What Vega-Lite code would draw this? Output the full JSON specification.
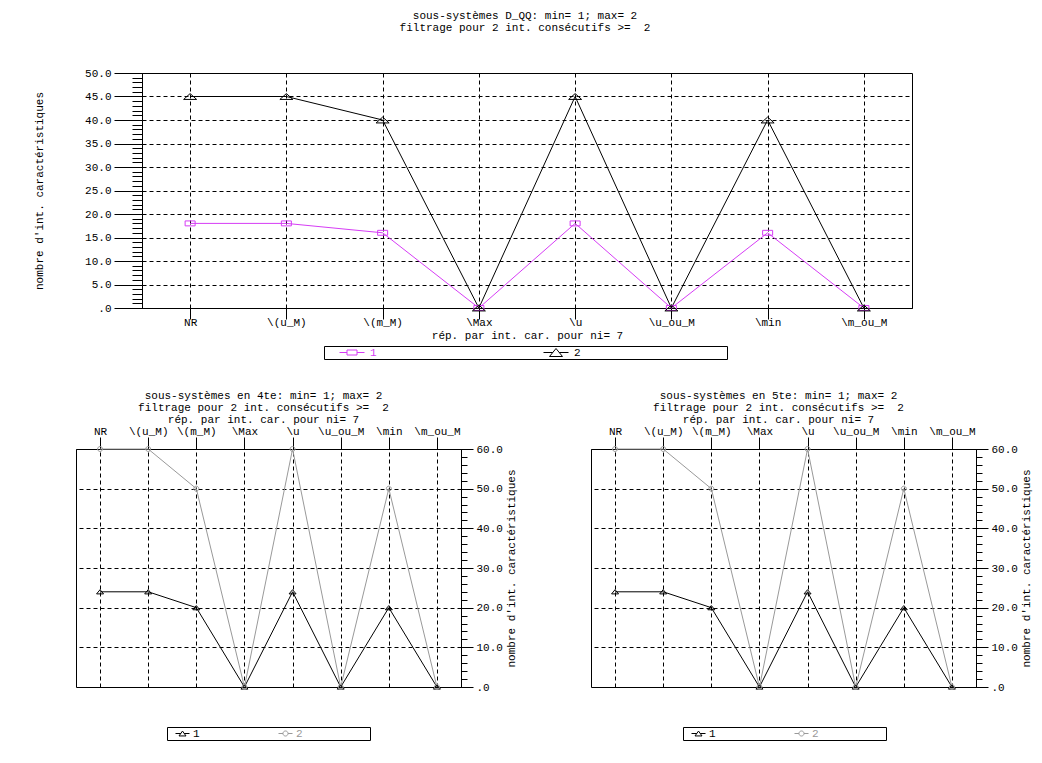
{
  "$schema": "https://vega.github.io/schema/vega-lite/v6.json",
  "background": "white",
  "padding": {"left": 33, "top": 9, "right": 2, "bottom": 2},
  "config": {
    "font": "Liberation Mono",
    "view": {"stroke": "black", "strokeWidth": 1},
    "axis": {
      "labelFont": "Liberation Mono", "labelFontSize": 11, "labelColor": "black",
      "titleFont": "Liberation Mono", "titleFontSize": 11, "titleFontWeight": "normal", "titleColor": "black",
      "domainColor": "black", "tickColor": "black", "gridColor": "black", "gridDash": [4, 3], "gridOpacity": 1, "gridWidth": 1,
      "labelOverlap": false, "labelFlush": false
    },
    "title": {"font": "Liberation Mono", "fontSize": 11, "fontWeight": "normal", "color": "black", "lineHeight": 12, "anchor": "middle", "frame": "group"},
    "legend": {"labelFont": "Liberation Mono", "labelFontSize": 11, "titleFont": "Liberation Mono", "titleFontSize": 11, "titleFontWeight": "normal",
      "strokeColor": "black", "strokeWidth": 1, "fillColor": "white", "cornerRadius": 0, "padding": 1, "direction": "horizontal", "orient": "none"}
  },
  "datasets": {
    "top": [
      {"cat": "NR", "s": "1", "v": 18}, {"cat": "\\(u_M)", "s": "1", "v": 18}, {"cat": "\\(m_M)", "s": "1", "v": 16}, {"cat": "\\Max", "s": "1", "v": 0},
      {"cat": "\\u", "s": "1", "v": 18}, {"cat": "\\u_ou_M", "s": "1", "v": 0}, {"cat": "\\min", "s": "1", "v": 16}, {"cat": "\\m_ou_M", "s": "1", "v": 0},
      {"cat": "NR", "s": "2", "v": 45}, {"cat": "\\(u_M)", "s": "2", "v": 45}, {"cat": "\\(m_M)", "s": "2", "v": 40}, {"cat": "\\Max", "s": "2", "v": 0},
      {"cat": "\\u", "s": "2", "v": 45}, {"cat": "\\u_ou_M", "s": "2", "v": 0}, {"cat": "\\min", "s": "2", "v": 40}, {"cat": "\\m_ou_M", "s": "2", "v": 0}
    ],
    "b4": [
      {"cat": "NR", "s": "1", "v": 24}, {"cat": "\\(u_M)", "s": "1", "v": 24}, {"cat": "\\(m_M)", "s": "1", "v": 20}, {"cat": "\\Max", "s": "1", "v": 0},
      {"cat": "\\u", "s": "1", "v": 24}, {"cat": "\\u_ou_M", "s": "1", "v": 0}, {"cat": "\\min", "s": "1", "v": 20}, {"cat": "\\m_ou_M", "s": "1", "v": 0},
      {"cat": "NR", "s": "2", "v": 60}, {"cat": "\\(u_M)", "s": "2", "v": 60}, {"cat": "\\(m_M)", "s": "2", "v": 50}, {"cat": "\\Max", "s": "2", "v": 0},
      {"cat": "\\u", "s": "2", "v": 60}, {"cat": "\\u_ou_M", "s": "2", "v": 0}, {"cat": "\\min", "s": "2", "v": 50}, {"cat": "\\m_ou_M", "s": "2", "v": 0}
    ],
    "b5": [
      {"cat": "NR", "s": "1", "v": 24}, {"cat": "\\(u_M)", "s": "1", "v": 24}, {"cat": "\\(m_M)", "s": "1", "v": 20}, {"cat": "\\Max", "s": "1", "v": 0},
      {"cat": "\\u", "s": "1", "v": 24}, {"cat": "\\u_ou_M", "s": "1", "v": 0}, {"cat": "\\min", "s": "1", "v": 20}, {"cat": "\\m_ou_M", "s": "1", "v": 0},
      {"cat": "NR", "s": "2", "v": 60}, {"cat": "\\(u_M)", "s": "2", "v": 60}, {"cat": "\\(m_M)", "s": "2", "v": 50}, {"cat": "\\Max", "s": "2", "v": 0},
      {"cat": "\\u", "s": "2", "v": 60}, {"cat": "\\u_ou_M", "s": "2", "v": 0}, {"cat": "\\min", "s": "2", "v": 50}, {"cat": "\\m_ou_M", "s": "2", "v": 0}
    ]
  },
  "spacing": 29,
  "resolve": {"scale": {"color": "independent", "shape": "independent", "stroke": "independent"}},
  "vconcat": [
    {
      "spacing": 7,
      "resolve": {"scale": {"color": "independent", "shape": "independent", "stroke": "independent"}},
      "hconcat": [
        {
          "width": 1, "height": 235,
          "data": {"name": "top"},
          "view": {"stroke": null},
          "mark": {"type": "point", "opacity": 0, "size": 0},
          "encoding": {
            "y": {"field": "v", "type": "quantitative", "scale": {"domain": [0, 50], "nice": false},
              "axis": {"title": "nombre d'int. caractéristiques", "labels": false, "ticks": false, "domain": false, "grid": false, "titlePadding": 32}}
          }
        },
        {
          "width": 770, "height": 235,
          "data": {"name": "top"},
          "title": {"text": ["sous-systèmes D_QQ: min= 1; max= 2", "filtrage pour 2 int. consécutifs >=\u00a0\u00a02"], "offset": 34, "dx": -2},
          "layer": [
            {
              "mark": {"type": "line", "strokeWidth": 1},
              "encoding": {
                "x": {"field": "cat", "type": "ordinal", "sort": ["NR", "\\(u_M)", "\\(m_M)", "\\Max", "\\u", "\\u_ou_M", "\\min", "\\m_ou_M"],
                  "scale": {"type": "point", "padding": 0.5},
                  "axis": {"title": "rép. par int. car. pour ni= 7", "labelAngle": 0, "tickSize": 11, "labelPadding": -3, "titlePadding": 2, "grid": true}},
                "y": {"field": "v", "type": "quantitative", "scale": {"domain": [0, 50], "nice": false},
                  "axis": {"title": null, "values": [0, 5, 10, 15, 20, 25, 30, 35, 40, 45, 50], "tickSize": 28, "labelPadding": 3,
                    "labelExpr": "datum.value == 0 ? '.0' : format(datum.value, '.1f')", "grid": true}},
                "stroke": {"field": "s", "type": "nominal", "scale": {"domain": ["1", "2"], "range": ["#d63cf5", "black"]}, "legend": null}
              }
            },
            {
              "mark": {"type": "point", "filled": false, "size": 169, "strokeWidth": 1, "opacity": 1},
              "encoding": {
                "x": {"field": "cat", "type": "ordinal", "sort": ["NR", "\\(u_M)", "\\(m_M)", "\\Max", "\\u", "\\u_ou_M", "\\min", "\\m_ou_M"]},
                "y": {"field": "v", "type": "quantitative",
                  "axis": {"orient": "left", "values": [0,1,2,3,4,5,6,7,8,9,10,11,12,13,14,15,16,17,18,19,20,21,22,23,24,25,26,27,28,29,30,31,32,33,34,35,36,37,38,39,40,41,42,43,44,45,46,47,48,49,50],
                    "tickSize": 10, "labels": false, "domain": false, "grid": false, "title": null}},
                "shape": {"field": "s", "type": "nominal", "scale": {"domain": ["1", "2"], "range": ["M-0.77,-0.38H0.77V0.38H-0.77Z", "M-1,0.45L0,-0.45L1,0.45Z"]}, "legend": null},
                "color": {"field": "s", "type": "nominal", "scale": {"range": ["#d63cf5", "black"]},
                  "legend": {
                    "title": "\u00a0", "titleOrient": "left", "titlePadding": 14,
                    "legendX": 182, "legendY": 273, "columns": 2, "columnPadding": 166,
                    "symbolSize": 625, "symbolStrokeWidth": 1, "symbolFillColor": "transparent", "labelOffset": 5, "clipHeight": 11,
                    "symbolType": {"expr": "datum.value == '1' ? 'M-1,0H-0.4M0.4,0H1M-0.4,-0.2H0.4V0.2H-0.4Z' : 'M-1,0H-0.26M0.26,0H1M-0.52,0.32L0,-0.32L0.52,0.32Z'"},
                    "labelColor": {"expr": "datum.value == '1' ? '#d63cf5' : 'black'"},
                    "labelExpr": "datum.label == '2' ? '2\u00a0\u00a0\u00a0\u00a0\u00a0\u00a0\u00a0\u00a0\u00a0\u00a0\u00a0\u00a0\u00a0\u00a0\u00a0\u00a0\u00a0\u00a0\u00a0\u00a0\u00a0\u00a0\u200b' : datum.label"
                  }}
              }
            }
          ],
          "resolve": {"axis": {"y": "independent"}}
        }
      ]
    },
    {
      "spacing": 73,
      "resolve": {"scale": {"color": "independent", "shape": "independent", "stroke": "independent"}},
      "hconcat": [
        {
          "width": 385, "height": 238,
          "data": {"name": "b4"},
          "title": {"text": ["sous-systèmes en 4te: min= 1; max= 2", "filtrage pour 2 int. consécutifs >=\u00a0\u00a02", "rép. par int. car. pour ni= 7"], "offset": 0, "dx": -5},
          "layer": [
            {
              "mark": {"type": "line", "strokeWidth": 1},
              "encoding": {
                "x": {"field": "cat", "type": "ordinal", "sort": ["NR", "\\(u_M)", "\\(m_M)", "\\Max", "\\u", "\\u_ou_M", "\\min", "\\m_ou_M"],
                  "scale": {"type": "point", "padding": 0.5},
                  "axis": {"orient": "top", "title": null, "labelAngle": 0, "tickSize": 12, "labelPadding": 1, "grid": true}},
                "y": {"field": "v", "type": "quantitative", "scale": {"domain": [0, 60], "nice": false},
                  "axis": {"orient": "right", "values": [0, 10, 20, 30, 40, 50, 60], "tickSize": 12, "labelPadding": 3,
                    "labelExpr": "datum.value == 0 ? '.0' : format(datum.value, '.1f')",
                    "title": "nombre d'int. caractéristiques", "titleAngle": 270, "titleBaseline": "top", "titlePadding": 3, "grid": true}},
                "stroke": {"field": "s", "type": "nominal", "scale": {"domain": ["1", "2"], "range": ["black", "#999999"]}, "legend": null}
              }
            },
            {
              "mark": {"type": "point", "filled": false, "size": 49, "strokeWidth": 1, "opacity": 1},
              "encoding": {
                "x": {"field": "cat", "type": "ordinal", "sort": ["NR", "\\(u_M)", "\\(m_M)", "\\Max", "\\u", "\\u_ou_M", "\\min", "\\m_ou_M"]},
                "y": {"field": "v", "type": "quantitative",
                  "axis": {"orient": "right", "values": [0,2,4,6,8,10,12,14,16,18,20,22,24,26,28,30,32,34,36,38,40,42,44,46,48,50,52,54,56,58,60],
                    "tickSize": 6, "labels": false, "domain": false, "grid": false, "title": null}},
                "shape": {"field": "s", "type": "nominal", "scale": {"domain": ["1", "2"], "range": ["M-1,0.6L0,-0.6L1,0.6Z", "M0.71,0A0.71,0.71 0 1,1 -0.71,0A0.71,0.71 0 1,1 0.71,0Z"]}, "legend": null},
                "color": {"field": "s", "type": "nominal", "scale": {"range": ["black", "#999999"]},
                  "legend": {
                    "title": "\u00a0", "titleOrient": "left", "titlePadding": 7,
                    "legendX": 91, "legendY": 278, "columns": 2, "columnPadding": 78,
                    "symbolSize": 196, "symbolStrokeWidth": 1, "symbolFillColor": "transparent", "labelOffset": 3, "clipHeight": 11,
                    "symbolType": {"expr": "datum.value == '1' ? 'M-1,0H-0.25M0.25,0H1M-0.5,0.35L0,-0.35L0.5,0.35Z' : 'M-1,0H-0.36M0.36,0H1M0.36,0A0.36,0.36 0 1,1 -0.36,0A0.36,0.36 0 1,1 0.36,0Z'"},
                    "labelColor": {"expr": "datum.value == '1' ? 'black' : '#999999'"},
                    "labelExpr": "datum.label == '2' ? '2\u00a0\u00a0\u00a0\u00a0\u00a0\u00a0\u00a0\u00a0\u00a0\u00a0\u200b' : datum.label"
                  }}
              }
            }
          ],
          "resolve": {"axis": {"y": "independent"}}
        },
        {
          "width": 385, "height": 238,
          "data": {"name": "b5"},
          "title": {"text": ["sous-systèmes en 5te: min= 1; max= 2", "filtrage pour 2 int. consécutifs >=\u00a0\u00a02", "rép. par int. car. pour ni= 7"], "offset": 0, "dx": -5},
          "layer": [
            {
              "mark": {"type": "line", "strokeWidth": 1},
              "encoding": {
                "x": {"field": "cat", "type": "ordinal", "sort": ["NR", "\\(u_M)", "\\(m_M)", "\\Max", "\\u", "\\u_ou_M", "\\min", "\\m_ou_M"],
                  "scale": {"type": "point", "padding": 0.5},
                  "axis": {"orient": "top", "title": null, "labelAngle": 0, "tickSize": 12, "labelPadding": 1, "grid": true}},
                "y": {"field": "v", "type": "quantitative", "scale": {"domain": [0, 60], "nice": false},
                  "axis": {"orient": "right", "values": [0, 10, 20, 30, 40, 50, 60], "tickSize": 12, "labelPadding": 3,
                    "labelExpr": "datum.value == 0 ? '.0' : format(datum.value, '.1f')",
                    "title": "nombre d'int. caractéristiques", "titleAngle": 270, "titleBaseline": "top", "titlePadding": 3, "grid": true}},
                "stroke": {"field": "s", "type": "nominal", "scale": {"domain": ["1", "2"], "range": ["black", "#999999"]}, "legend": null}
              }
            },
            {
              "mark": {"type": "point", "filled": false, "size": 49, "strokeWidth": 1, "opacity": 1},
              "encoding": {
                "x": {"field": "cat", "type": "ordinal", "sort": ["NR", "\\(u_M)", "\\(m_M)", "\\Max", "\\u", "\\u_ou_M", "\\min", "\\m_ou_M"]},
                "y": {"field": "v", "type": "quantitative",
                  "axis": {"orient": "right", "values": [0,2,4,6,8,10,12,14,16,18,20,22,24,26,28,30,32,34,36,38,40,42,44,46,48,50,52,54,56,58,60],
                    "tickSize": 6, "labels": false, "domain": false, "grid": false, "title": null}},
                "shape": {"field": "s", "type": "nominal", "scale": {"domain": ["1", "2"], "range": ["M-1,0.6L0,-0.6L1,0.6Z", "M0.71,0A0.71,0.71 0 1,1 -0.71,0A0.71,0.71 0 1,1 0.71,0Z"]}, "legend": null},
                "color": {"field": "s", "type": "nominal", "scale": {"range": ["black", "#999999"]},
                  "legend": {
                    "title": "\u00a0", "titleOrient": "left", "titlePadding": 7,
                    "legendX": 92, "legendY": 278, "columns": 2, "columnPadding": 78,
                    "symbolSize": 196, "symbolStrokeWidth": 1, "symbolFillColor": "transparent", "labelOffset": 3, "clipHeight": 11,
                    "symbolType": {"expr": "datum.value == '1' ? 'M-1,0H-0.25M0.25,0H1M-0.5,0.35L0,-0.35L0.5,0.35Z' : 'M-1,0H-0.36M0.36,0H1M0.36,0A0.36,0.36 0 1,1 -0.36,0A0.36,0.36 0 1,1 0.36,0Z'"},
                    "labelColor": {"expr": "datum.value == '1' ? 'black' : '#999999'"},
                    "labelExpr": "datum.label == '2' ? '2\u00a0\u00a0\u00a0\u00a0\u00a0\u00a0\u00a0\u00a0\u00a0\u00a0\u200b' : datum.label"
                  }}
              }
            }
          ],
          "resolve": {"axis": {"y": "independent"}}
        }
      ]
    }
  ]
}
